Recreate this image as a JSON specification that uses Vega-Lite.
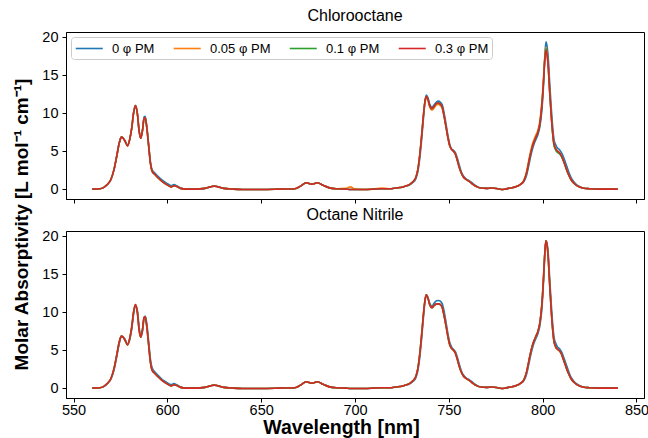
{
  "$schema": "https://vega.github.io/schema/vega-lite/v6.json",
  "padding": {"left": 12, "top": 7, "right": 0, "bottom": 0},
  "bounds": "flush",
  "spacing": 32,
  "config": {
    "font": "Liberation Sans",
    "view": {"stroke": "#000", "strokeWidth": 1},
    "axis": {"grid": false, "domainColor": "#000", "domainWidth": 1, "tickColor": "#000", "tickSize": 4, "tickWidth": 1, "labelColor": "#000", "labelFontSize": 14.5, "labelPadding": 1, "titleColor": "#000", "titleFontSize": 19.5, "titleFontWeight": "bold"},
    "axisY": {"labelPadding": 4, "titlePadding": 10},
    "axisX": {"titlePadding": 2},
    "title": {"fontSize": 16, "fontWeight": "normal", "color": "#000", "offset": 5, "font": "Liberation Sans"}
  },
  "resolve": {"legend": {"color": "independent"}},
  "datasets": {
    "spec": [
      {"p":"C","wl":560,"a":0,"b":0,"c":0,"d":0},
      {"p":"C","wl":564,"a":0.05,"b":0.05,"c":0.05,"d":0.05},
      {"p":"C","wl":566,"a":0.2,"b":0.2,"c":0.2,"d":0.2},
      {"p":"C","wl":568,"a":0.6,"b":0.6,"c":0.6,"d":0.6},
      {"p":"C","wl":570,"a":1.3,"b":1.3,"c":1.3,"d":1.3},
      {"p":"C","wl":571.5,"a":2.5,"b":2.5,"c":2.5,"d":2.5},
      {"p":"C","wl":573,"a":4.3,"b":4.3,"c":4.3,"d":4.3},
      {"p":"C","wl":574.5,"a":6.2,"b":6.2,"c":6.2,"d":6.2},
      {"p":"C","wl":575.5,"a":6.85,"b":6.85,"c":6.85,"d":6.85},
      {"p":"C","wl":576.5,"a":6.7,"b":6.7,"c":6.7,"d":6.7},
      {"p":"C","wl":577.5,"a":6.35,"b":6.3,"c":6.3,"d":6.3},
      {"p":"C","wl":578.8,"a":5.8,"b":5.7,"c":5.7,"d":5.7},
      {"p":"C","wl":580,"a":6.6,"b":6.6,"c":6.6,"d":6.6},
      {"p":"C","wl":581,"a":8.0,"b":8.0,"c":8.0,"d":8.0},
      {"p":"C","wl":582,"a":10.0,"b":10.0,"c":10.0,"d":10.0},
      {"p":"C","wl":583,"a":11.0,"b":11.0,"c":11.0,"d":11.0},
      {"p":"C","wl":584,"a":10.0,"b":10.0,"c":10.0,"d":10.0},
      {"p":"C","wl":585,"a":7.6,"b":7.6,"c":7.6,"d":7.6},
      {"p":"C","wl":585.8,"a":6.7,"b":6.7,"c":6.7,"d":6.7},
      {"p":"C","wl":586.8,"a":7.8,"b":7.8,"c":7.8,"d":7.8},
      {"p":"C","wl":587.6,"a":9.5,"b":9.3,"c":9.3,"d":9.3},
      {"p":"C","wl":588.2,"a":9.6,"b":9.4,"c":9.4,"d":9.4},
      {"p":"C","wl":589,"a":8.4,"b":8.2,"c":8.2,"d":8.2},
      {"p":"C","wl":590,"a":6.0,"b":5.8,"c":5.8,"d":5.8},
      {"p":"C","wl":591,"a":3.6,"b":3.4,"c":3.4,"d":3.4},
      {"p":"C","wl":592,"a":2.5,"b":2.3,"c":2.3,"d":2.3},
      {"p":"C","wl":593.5,"a":2.1,"b":1.9,"c":1.9,"d":1.9},
      {"p":"C","wl":595,"a":1.7,"b":1.5,"c":1.5,"d":1.5},
      {"p":"C","wl":597,"a":1.25,"b":1.05,"c":1.05,"d":1.05},
      {"p":"C","wl":599,"a":0.9,"b":0.7,"c":0.7,"d":0.7},
      {"p":"C","wl":601,"a":0.6,"b":0.4,"c":0.4,"d":0.4},
      {"p":"C","wl":602,"a":0.45,"b":0.28,"c":0.28,"d":0.28},
      {"p":"C","wl":603.5,"a":0.6,"b":0.45,"c":0.45,"d":0.45},
      {"p":"C","wl":605,"a":0.45,"b":0.35,"c":0.35,"d":0.35},
      {"p":"C","wl":607,"a":0.15,"b":0.1,"c":0.1,"d":0.1},
      {"p":"C","wl":610,"a":0,"b":0,"c":0,"d":0},
      {"p":"C","wl":615,"a":0,"b":0,"c":0,"d":0},
      {"p":"C","wl":620,"a":0.1,"b":0.1,"c":0.1,"d":0.1},
      {"p":"C","wl":623,"a":0.3,"b":0.3,"c":0.3,"d":0.3},
      {"p":"C","wl":625,"a":0.4,"b":0.4,"c":0.4,"d":0.4},
      {"p":"C","wl":627,"a":0.3,"b":0.3,"c":0.3,"d":0.3},
      {"p":"C","wl":630,"a":0.1,"b":0.1,"c":0.1,"d":0.1},
      {"p":"C","wl":635,"a":0,"b":0,"c":0,"d":0},
      {"p":"C","wl":640,"a":-0.05,"b":-0.05,"c":-0.05,"d":-0.05},
      {"p":"C","wl":650,"a":-0.05,"b":-0.05,"c":-0.05,"d":-0.05},
      {"p":"C","wl":660,"a":0,"b":0,"c":0,"d":0},
      {"p":"C","wl":668,"a":0.05,"b":0.05,"c":0.05,"d":0.05},
      {"p":"C","wl":671,"a":0.4,"b":0.4,"c":0.4,"d":0.4},
      {"p":"C","wl":674,"a":0.85,"b":0.85,"c":0.85,"d":0.85},
      {"p":"C","wl":677,"a":0.65,"b":0.65,"c":0.65,"d":0.65},
      {"p":"C","wl":680,"a":0.85,"b":0.85,"c":0.85,"d":0.85},
      {"p":"C","wl":683,"a":0.5,"b":0.5,"c":0.5,"d":0.5},
      {"p":"C","wl":686,"a":0.2,"b":0.2,"c":0.2,"d":0.2},
      {"p":"C","wl":690,"a":0.05,"b":0.05,"c":0.05,"d":0.05},
      {"p":"C","wl":695,"a":0,"b":0.1,"c":0,"d":0},
      {"p":"C","wl":697.5,"a":-0.05,"b":0.3,"c":-0.05,"d":-0.05},
      {"p":"C","wl":700,"a":-0.05,"b":0,"c":-0.05,"d":-0.05},
      {"p":"C","wl":705,"a":-0.05,"b":-0.05,"c":-0.05,"d":-0.05},
      {"p":"C","wl":710,"a":0,"b":0,"c":0,"d":0},
      {"p":"C","wl":714,"a":0.05,"b":0.15,"c":0.05,"d":0.05},
      {"p":"C","wl":718,"a":0.05,"b":0.05,"c":0.05,"d":0.05},
      {"p":"C","wl":722,"a":0.15,"b":0.15,"c":0.15,"d":0.15},
      {"p":"C","wl":725,"a":0.25,"b":0.25,"c":0.25,"d":0.25},
      {"p":"C","wl":727,"a":0.4,"b":0.4,"c":0.4,"d":0.4},
      {"p":"C","wl":729,"a":0.55,"b":0.6,"c":0.6,"d":0.6},
      {"p":"C","wl":731,"a":0.9,"b":1.0,"c":1.0,"d":1.0},
      {"p":"C","wl":732.5,"a":1.4,"b":1.6,"c":1.6,"d":1.6},
      {"p":"C","wl":733.5,"a":2.3,"b":2.6,"c":2.6,"d":2.6},
      {"p":"C","wl":734.5,"a":4.0,"b":4.5,"c":4.5,"d":4.5},
      {"p":"C","wl":735.5,"a":6.5,"b":7.0,"c":7.0,"d":7.0},
      {"p":"C","wl":736.5,"a":9.4,"b":9.8,"c":9.8,"d":9.8},
      {"p":"C","wl":737.3,"a":11.6,"b":11.4,"c":11.6,"d":11.6},
      {"p":"C","wl":738,"a":12.4,"b":12.0,"c":12.2,"d":12.2},
      {"p":"C","wl":738.8,"a":12.1,"b":11.7,"c":11.9,"d":11.9},
      {"p":"C","wl":739.8,"a":11.2,"b":10.8,"c":11.0,"d":11.0},
      {"p":"C","wl":741,"a":10.8,"b":10.4,"c":10.6,"d":10.6},
      {"p":"C","wl":742.2,"a":11.1,"b":10.7,"c":10.9,"d":10.9},
      {"p":"C","wl":743.5,"a":11.5,"b":11.1,"c":11.3,"d":11.3},
      {"p":"C","wl":744.5,"a":11.6,"b":11.15,"c":11.35,"d":11.35},
      {"p":"C","wl":745.5,"a":11.45,"b":11.0,"c":11.2,"d":11.2},
      {"p":"C","wl":746.5,"a":11.1,"b":10.6,"c":10.8,"d":10.8},
      {"p":"C","wl":747.5,"a":10.0,"b":9.6,"c":9.6,"d":9.6},
      {"p":"C","wl":748.5,"a":8.6,"b":8.2,"c":8.2,"d":8.2},
      {"p":"C","wl":749.5,"a":7.1,"b":6.8,"c":6.8,"d":6.8},
      {"p":"C","wl":750.5,"a":5.9,"b":5.7,"c":5.7,"d":5.7},
      {"p":"C","wl":751.5,"a":5.3,"b":5.2,"c":5.2,"d":5.2},
      {"p":"C","wl":752.5,"a":5.1,"b":5.0,"c":5.0,"d":5.0},
      {"p":"C","wl":753.5,"a":4.8,"b":4.6,"c":4.6,"d":4.6},
      {"p":"C","wl":754.5,"a":4.1,"b":3.8,"c":3.8,"d":3.8},
      {"p":"C","wl":755.5,"a":3.2,"b":2.9,"c":2.9,"d":2.9},
      {"p":"C","wl":756.5,"a":2.4,"b":2.2,"c":2.2,"d":2.2},
      {"p":"C","wl":757.5,"a":1.85,"b":1.7,"c":1.7,"d":1.7},
      {"p":"C","wl":759,"a":1.4,"b":1.3,"c":1.3,"d":1.3},
      {"p":"C","wl":761,"a":1.1,"b":1.0,"c":1.0,"d":1.0},
      {"p":"C","wl":763,"a":0.7,"b":0.6,"c":0.6,"d":0.6},
      {"p":"C","wl":765,"a":0.35,"b":0.3,"c":0.3,"d":0.3},
      {"p":"C","wl":767,"a":0.15,"b":0.15,"c":0.15,"d":0.15},
      {"p":"C","wl":770,"a":0.1,"b":0.1,"c":0.1,"d":0.1},
      {"p":"C","wl":773,"a":0.15,"b":0.15,"c":0.15,"d":0.15},
      {"p":"C","wl":776,"a":0.05,"b":0.05,"c":0.05,"d":0.05},
      {"p":"C","wl":778,"a":-0.05,"b":-0.05,"c":-0.05,"d":-0.05},
      {"p":"C","wl":780,"a":0,"b":0,"c":0,"d":0},
      {"p":"C","wl":783,"a":0.15,"b":0.15,"c":0.15,"d":0.15},
      {"p":"C","wl":786,"a":0.35,"b":0.35,"c":0.35,"d":0.35},
      {"p":"C","wl":788,"a":0.6,"b":0.6,"c":0.6,"d":0.6},
      {"p":"C","wl":790,"a":1.0,"b":1.2,"c":1.1,"d":1.1},
      {"p":"C","wl":791.5,"a":1.9,"b":2.4,"c":2.2,"d":2.2},
      {"p":"C","wl":792.5,"a":3.0,"b":3.7,"c":3.4,"d":3.4},
      {"p":"C","wl":793.5,"a":4.2,"b":4.9,"c":4.6,"d":4.6},
      {"p":"C","wl":794.5,"a":5.2,"b":5.9,"c":5.6,"d":5.6},
      {"p":"C","wl":795.5,"a":6.0,"b":6.6,"c":6.3,"d":6.3},
      {"p":"C","wl":796.5,"a":6.6,"b":7.2,"c":6.9,"d":6.9},
      {"p":"C","wl":797.5,"a":7.2,"b":7.8,"c":7.5,"d":7.5},
      {"p":"C","wl":798.5,"a":8.2,"b":9.0,"c":8.6,"d":8.6},
      {"p":"C","wl":799.5,"a":10.2,"b":11.3,"c":10.8,"d":10.8},
      {"p":"C","wl":800.3,"a":13.0,"b":14.0,"c":13.5,"d":13.5},
      {"p":"C","wl":801,"a":16.6,"b":17.0,"c":16.6,"d":16.5},
      {"p":"C","wl":801.7,"a":19.4,"b":18.7,"c":18.5,"d":18.3},
      {"p":"C","wl":802.3,"a":18.9,"b":18.0,"c":17.9,"d":17.8},
      {"p":"C","wl":803,"a":17.2,"b":16.1,"c":16.0,"d":16.0},
      {"p":"C","wl":803.7,"a":14.2,"b":13.0,"c":12.9,"d":13.0},
      {"p":"C","wl":804.5,"a":11.0,"b":10.0,"c":9.9,"d":10.0},
      {"p":"C","wl":805.3,"a":8.3,"b":7.5,"c":7.3,"d":7.5},
      {"p":"C","wl":806,"a":6.6,"b":6.0,"c":5.8,"d":6.0},
      {"p":"C","wl":807,"a":5.8,"b":5.3,"c":5.1,"d":5.3},
      {"p":"C","wl":808,"a":5.4,"b":5.0,"c":4.8,"d":5.0},
      {"p":"C","wl":809,"a":5.2,"b":4.8,"c":4.65,"d":4.8},
      {"p":"C","wl":810,"a":4.8,"b":4.4,"c":4.3,"d":4.4},
      {"p":"C","wl":811,"a":4.3,"b":3.8,"c":3.75,"d":3.8},
      {"p":"C","wl":812,"a":3.6,"b":3.1,"c":3.1,"d":3.1},
      {"p":"C","wl":813,"a":2.9,"b":2.4,"c":2.4,"d":2.4},
      {"p":"C","wl":814,"a":2.2,"b":1.8,"c":1.8,"d":1.8},
      {"p":"C","wl":815,"a":1.6,"b":1.3,"c":1.3,"d":1.3},
      {"p":"C","wl":816.5,"a":1.0,"b":0.8,"c":0.8,"d":0.8},
      {"p":"C","wl":818,"a":0.6,"b":0.5,"c":0.5,"d":0.5},
      {"p":"C","wl":820,"a":0.3,"b":0.25,"c":0.25,"d":0.25},
      {"p":"C","wl":822,"a":0.12,"b":0.12,"c":0.12,"d":0.12},
      {"p":"C","wl":825,"a":0.05,"b":0.05,"c":0.05,"d":0.05},
      {"p":"C","wl":830,"a":0,"b":0,"c":0,"d":0},
      {"p":"C","wl":835,"a":0,"b":0,"c":0,"d":0},
      {"p":"C","wl":840,"a":0,"b":0,"c":0,"d":0},

      {"p":"N","wl":560,"a":0,"b":0,"c":0,"d":0},
      {"p":"N","wl":564,"a":0.05,"b":0.05,"c":0.05,"d":0.05},
      {"p":"N","wl":566,"a":0.2,"b":0.2,"c":0.2,"d":0.2},
      {"p":"N","wl":568,"a":0.6,"b":0.6,"c":0.6,"d":0.6},
      {"p":"N","wl":570,"a":1.2,"b":1.3,"c":1.3,"d":1.3},
      {"p":"N","wl":571.5,"a":2.3,"b":2.5,"c":2.5,"d":2.5},
      {"p":"N","wl":573,"a":4.1,"b":4.3,"c":4.3,"d":4.3},
      {"p":"N","wl":574.5,"a":6.0,"b":6.2,"c":6.2,"d":6.2},
      {"p":"N","wl":575.5,"a":6.8,"b":6.85,"c":6.85,"d":6.85},
      {"p":"N","wl":576.5,"a":6.75,"b":6.7,"c":6.7,"d":6.7},
      {"p":"N","wl":577.5,"a":6.4,"b":6.3,"c":6.3,"d":6.3},
      {"p":"N","wl":578.8,"a":5.8,"b":5.7,"c":5.7,"d":5.7},
      {"p":"N","wl":580,"a":6.4,"b":6.6,"c":6.6,"d":6.6},
      {"p":"N","wl":581,"a":7.7,"b":8.0,"c":8.0,"d":8.0},
      {"p":"N","wl":582,"a":9.7,"b":10.0,"c":10.0,"d":10.0},
      {"p":"N","wl":583,"a":10.9,"b":11.0,"c":11.0,"d":11.0},
      {"p":"N","wl":584,"a":10.3,"b":10.0,"c":10.0,"d":10.0},
      {"p":"N","wl":585,"a":8.0,"b":7.6,"c":7.6,"d":7.6},
      {"p":"N","wl":585.8,"a":6.8,"b":6.7,"c":6.7,"d":6.7},
      {"p":"N","wl":586.8,"a":7.5,"b":7.8,"c":7.8,"d":7.8},
      {"p":"N","wl":587.6,"a":9.2,"b":9.3,"c":9.3,"d":9.3},
      {"p":"N","wl":588.2,"a":9.5,"b":9.4,"c":9.4,"d":9.4},
      {"p":"N","wl":589,"a":8.6,"b":8.2,"c":8.2,"d":8.2},
      {"p":"N","wl":590,"a":6.3,"b":5.8,"c":5.8,"d":5.8},
      {"p":"N","wl":591,"a":3.8,"b":3.4,"c":3.4,"d":3.4},
      {"p":"N","wl":592,"a":2.6,"b":2.3,"c":2.3,"d":2.3},
      {"p":"N","wl":593.5,"a":2.1,"b":1.9,"c":1.9,"d":1.9},
      {"p":"N","wl":595,"a":1.7,"b":1.5,"c":1.5,"d":1.5},
      {"p":"N","wl":597,"a":1.2,"b":1.05,"c":1.05,"d":1.05},
      {"p":"N","wl":599,"a":0.85,"b":0.7,"c":0.7,"d":0.7},
      {"p":"N","wl":601,"a":0.55,"b":0.4,"c":0.4,"d":0.4},
      {"p":"N","wl":602,"a":0.45,"b":0.28,"c":0.28,"d":0.28},
      {"p":"N","wl":603.5,"a":0.6,"b":0.45,"c":0.45,"d":0.45},
      {"p":"N","wl":605,"a":0.45,"b":0.35,"c":0.35,"d":0.35},
      {"p":"N","wl":607,"a":0.15,"b":0.1,"c":0.1,"d":0.1},
      {"p":"N","wl":610,"a":0,"b":0,"c":0,"d":0},
      {"p":"N","wl":615,"a":0,"b":0,"c":0,"d":0},
      {"p":"N","wl":620,"a":0.1,"b":0.1,"c":0.1,"d":0.1},
      {"p":"N","wl":623,"a":0.3,"b":0.3,"c":0.3,"d":0.3},
      {"p":"N","wl":625,"a":0.4,"b":0.4,"c":0.4,"d":0.4},
      {"p":"N","wl":627,"a":0.3,"b":0.3,"c":0.3,"d":0.3},
      {"p":"N","wl":630,"a":0.1,"b":0.1,"c":0.1,"d":0.1},
      {"p":"N","wl":635,"a":0,"b":0,"c":0,"d":0},
      {"p":"N","wl":640,"a":-0.05,"b":-0.05,"c":-0.05,"d":-0.05},
      {"p":"N","wl":650,"a":-0.05,"b":-0.05,"c":-0.05,"d":-0.05},
      {"p":"N","wl":660,"a":0,"b":0,"c":0,"d":0},
      {"p":"N","wl":668,"a":0.05,"b":0.05,"c":0.05,"d":0.05},
      {"p":"N","wl":671,"a":0.4,"b":0.4,"c":0.4,"d":0.4},
      {"p":"N","wl":674,"a":0.85,"b":0.85,"c":0.85,"d":0.85},
      {"p":"N","wl":677,"a":0.65,"b":0.65,"c":0.65,"d":0.65},
      {"p":"N","wl":680,"a":0.85,"b":0.85,"c":0.85,"d":0.85},
      {"p":"N","wl":683,"a":0.5,"b":0.5,"c":0.5,"d":0.5},
      {"p":"N","wl":686,"a":0.2,"b":0.2,"c":0.2,"d":0.2},
      {"p":"N","wl":690,"a":0.05,"b":0.05,"c":0.05,"d":0.05},
      {"p":"N","wl":695,"a":0,"b":0,"c":0,"d":0},
      {"p":"N","wl":697.5,"a":-0.05,"b":-0.05,"c":-0.05,"d":-0.05},
      {"p":"N","wl":700,"a":-0.05,"b":-0.05,"c":-0.05,"d":-0.05},
      {"p":"N","wl":705,"a":-0.05,"b":-0.05,"c":-0.05,"d":-0.05},
      {"p":"N","wl":710,"a":0,"b":0,"c":0,"d":0},
      {"p":"N","wl":714,"a":0.05,"b":0.05,"c":0.05,"d":0.05},
      {"p":"N","wl":718,"a":0.05,"b":0.05,"c":0.05,"d":0.05},
      {"p":"N","wl":722,"a":0.15,"b":0.15,"c":0.15,"d":0.15},
      {"p":"N","wl":725,"a":0.25,"b":0.25,"c":0.25,"d":0.25},
      {"p":"N","wl":727,"a":0.4,"b":0.4,"c":0.4,"d":0.4},
      {"p":"N","wl":729,"a":0.55,"b":0.6,"c":0.6,"d":0.6},
      {"p":"N","wl":731,"a":0.9,"b":1.0,"c":1.0,"d":1.0},
      {"p":"N","wl":732.5,"a":1.4,"b":1.6,"c":1.6,"d":1.6},
      {"p":"N","wl":733.5,"a":2.3,"b":2.6,"c":2.6,"d":2.6},
      {"p":"N","wl":734.5,"a":4.0,"b":4.5,"c":4.5,"d":4.5},
      {"p":"N","wl":735.5,"a":6.5,"b":7.0,"c":7.0,"d":7.0},
      {"p":"N","wl":736.5,"a":9.4,"b":9.8,"c":9.8,"d":9.8},
      {"p":"N","wl":737.3,"a":11.4,"b":11.6,"c":11.6,"d":11.6},
      {"p":"N","wl":738,"a":12.3,"b":12.3,"c":12.3,"d":12.3},
      {"p":"N","wl":738.8,"a":12.0,"b":11.9,"c":11.9,"d":11.9},
      {"p":"N","wl":739.8,"a":11.2,"b":11.0,"c":11.0,"d":11.0},
      {"p":"N","wl":741,"a":10.8,"b":10.6,"c":10.6,"d":10.6},
      {"p":"N","wl":742.2,"a":11.2,"b":10.9,"c":10.9,"d":10.9},
      {"p":"N","wl":743.5,"a":11.5,"b":11.1,"c":11.1,"d":11.1},
      {"p":"N","wl":744.5,"a":11.55,"b":11.1,"c":11.1,"d":11.1},
      {"p":"N","wl":745.5,"a":11.45,"b":11.0,"c":11.0,"d":11.0},
      {"p":"N","wl":746.5,"a":11.1,"b":10.6,"c":10.6,"d":10.6},
      {"p":"N","wl":747.5,"a":10.1,"b":9.5,"c":9.5,"d":9.5},
      {"p":"N","wl":748.5,"a":8.7,"b":8.2,"c":8.2,"d":8.2},
      {"p":"N","wl":749.5,"a":7.2,"b":6.8,"c":6.8,"d":6.8},
      {"p":"N","wl":750.5,"a":6.0,"b":5.7,"c":5.7,"d":5.7},
      {"p":"N","wl":751.5,"a":5.4,"b":5.2,"c":5.2,"d":5.2},
      {"p":"N","wl":752.5,"a":5.1,"b":5.0,"c":5.0,"d":5.0},
      {"p":"N","wl":753.5,"a":4.8,"b":4.6,"c":4.6,"d":4.6},
      {"p":"N","wl":754.5,"a":4.1,"b":3.8,"c":3.8,"d":3.8},
      {"p":"N","wl":755.5,"a":3.2,"b":2.9,"c":2.9,"d":2.9},
      {"p":"N","wl":756.5,"a":2.4,"b":2.2,"c":2.2,"d":2.2},
      {"p":"N","wl":757.5,"a":1.85,"b":1.7,"c":1.7,"d":1.7},
      {"p":"N","wl":759,"a":1.4,"b":1.3,"c":1.3,"d":1.3},
      {"p":"N","wl":761,"a":1.1,"b":1.0,"c":1.0,"d":1.0},
      {"p":"N","wl":763,"a":0.7,"b":0.6,"c":0.6,"d":0.6},
      {"p":"N","wl":765,"a":0.35,"b":0.3,"c":0.3,"d":0.3},
      {"p":"N","wl":767,"a":0.15,"b":0.15,"c":0.15,"d":0.15},
      {"p":"N","wl":770,"a":0.1,"b":0.1,"c":0.1,"d":0.1},
      {"p":"N","wl":773,"a":0.15,"b":0.15,"c":0.15,"d":0.15},
      {"p":"N","wl":776,"a":0.05,"b":0.05,"c":0.05,"d":0.05},
      {"p":"N","wl":778,"a":-0.05,"b":-0.05,"c":-0.05,"d":-0.05},
      {"p":"N","wl":780,"a":0,"b":0,"c":0,"d":0},
      {"p":"N","wl":783,"a":0.15,"b":0.15,"c":0.15,"d":0.15},
      {"p":"N","wl":786,"a":0.35,"b":0.35,"c":0.35,"d":0.35},
      {"p":"N","wl":788,"a":0.6,"b":0.6,"c":0.6,"d":0.6},
      {"p":"N","wl":790,"a":1.0,"b":1.1,"c":1.1,"d":1.1},
      {"p":"N","wl":791.5,"a":1.9,"b":2.2,"c":2.2,"d":2.2},
      {"p":"N","wl":792.5,"a":3.0,"b":3.4,"c":3.4,"d":3.4},
      {"p":"N","wl":793.5,"a":4.2,"b":4.6,"c":4.6,"d":4.6},
      {"p":"N","wl":794.5,"a":5.2,"b":5.6,"c":5.6,"d":5.6},
      {"p":"N","wl":795.5,"a":6.0,"b":6.3,"c":6.3,"d":6.3},
      {"p":"N","wl":796.5,"a":6.6,"b":6.9,"c":6.9,"d":6.9},
      {"p":"N","wl":797.5,"a":7.2,"b":7.5,"c":7.5,"d":7.5},
      {"p":"N","wl":798.5,"a":8.2,"b":8.6,"c":8.6,"d":8.6},
      {"p":"N","wl":799.5,"a":10.2,"b":10.8,"c":10.8,"d":10.8},
      {"p":"N","wl":800.3,"a":13.2,"b":13.8,"c":13.8,"d":13.8},
      {"p":"N","wl":801,"a":16.8,"b":17.2,"c":17.2,"d":17.2},
      {"p":"N","wl":801.7,"a":19.4,"b":19.4,"c":19.4,"d":19.4},
      {"p":"N","wl":802.3,"a":19.1,"b":18.9,"c":18.9,"d":18.9},
      {"p":"N","wl":803,"a":17.6,"b":17.0,"c":17.0,"d":17.0},
      {"p":"N","wl":803.7,"a":14.6,"b":13.8,"c":13.8,"d":13.8},
      {"p":"N","wl":804.5,"a":11.4,"b":10.5,"c":10.5,"d":10.5},
      {"p":"N","wl":805.3,"a":8.6,"b":7.8,"c":7.8,"d":7.8},
      {"p":"N","wl":806,"a":6.8,"b":6.2,"c":6.2,"d":6.2},
      {"p":"N","wl":807,"a":5.9,"b":5.4,"c":5.4,"d":5.4},
      {"p":"N","wl":808,"a":5.4,"b":5.1,"c":5.1,"d":5.1},
      {"p":"N","wl":809,"a":5.2,"b":4.9,"c":4.9,"d":4.9},
      {"p":"N","wl":810,"a":4.8,"b":4.5,"c":4.5,"d":4.5},
      {"p":"N","wl":811,"a":4.2,"b":3.8,"c":3.8,"d":3.8},
      {"p":"N","wl":812,"a":3.5,"b":3.1,"c":3.1,"d":3.1},
      {"p":"N","wl":813,"a":2.8,"b":2.4,"c":2.4,"d":2.4},
      {"p":"N","wl":814,"a":2.1,"b":1.8,"c":1.8,"d":1.8},
      {"p":"N","wl":815,"a":1.5,"b":1.3,"c":1.3,"d":1.3},
      {"p":"N","wl":816.5,"a":0.95,"b":0.8,"c":0.8,"d":0.8},
      {"p":"N","wl":818,"a":0.6,"b":0.5,"c":0.5,"d":0.5},
      {"p":"N","wl":820,"a":0.3,"b":0.25,"c":0.25,"d":0.25},
      {"p":"N","wl":822,"a":0.12,"b":0.12,"c":0.12,"d":0.12},
      {"p":"N","wl":825,"a":0.05,"b":0.05,"c":0.05,"d":0.05},
      {"p":"N","wl":830,"a":0,"b":0,"c":0,"d":0},
      {"p":"N","wl":835,"a":0,"b":0,"c":0,"d":0},
      {"p":"N","wl":840,"a":0,"b":0,"c":0,"d":0}
    ]
  },
  "vconcat": [
    {
      "width": 578,
      "height": 167,
      "title": "Chlorooctane",
      "data": {"name": "spec"},
      "transform": [
        {"filter": "datum.p == 'C'"},
        {"fold": ["a", "b", "c", "d"], "as": ["series", "value"]}
      ],
      "mark": {"type": "line", "strokeWidth": 1.6, "interpolate": "monotone"},
      "encoding": {
        "x": {"field": "wl", "type": "quantitative", "scale": {"domain": [546, 854], "nice": false, "zero": false}, "axis": {"values": [550, 600, 650, 700, 750, 800, 850], "labels": false, "title": null}},
        "y": {"field": "value", "type": "quantitative", "scale": {"domain": [-1.3, 20.7], "nice": false}, "axis": {"values": [0, 5, 10, 15, 20], "title": "Molar Absorptivity [L mol⁻¹ cm⁻¹]", "titleY": 192, "titleFontSize": 19}},
        "color": {
          "field": "series", "type": "nominal",
          "scale": {"domain": ["a", "b", "c", "d"], "range": ["#1f77b4", "#ff7f0e", "#2ca02c", "#d62728"]},
          "legend": {"title": null, "orient": "top-left", "offset": 5, "direction": "horizontal", "columns": 4, "symbolType": "M-1,0H3", "symbolSize": 182.25, "symbolStrokeWidth": 1.6, "labelFontSize": 13, "labelColor": "#000", "labelOffset": 21.5, "columnPadding": 16, "padding": 3.5, "strokeColor": "#cccccc", "fillColor": "rgba(255,255,255,0.8)", "cornerRadius": 3,
            "labelExpr": "{'a': '0 φ PM', 'b': '0.05 φ PM', 'c': '0.1 φ PM', 'd': '0.3 φ PM'}[datum.value]"}
        }
      }
    },
    {
      "width": 578,
      "height": 167,
      "title": "Octane Nitrile",
      "data": {"name": "spec"},
      "transform": [
        {"filter": "datum.p == 'N'"},
        {"fold": ["a", "b", "c", "d"], "as": ["series", "value"]}
      ],
      "mark": {"type": "line", "strokeWidth": 1.6, "interpolate": "monotone"},
      "encoding": {
        "x": {"field": "wl", "type": "quantitative", "scale": {"domain": [546, 854], "nice": false, "zero": false}, "axis": {"values": [550, 600, 650, 700, 750, 800, 850], "title": "Wavelength [nm]", "titleX": 275}},
        "y": {"field": "value", "type": "quantitative", "scale": {"domain": [-1.3, 20.7], "nice": false}, "axis": {"values": [0, 5, 10, 15, 20], "title": null}},
        "color": {
          "field": "series", "type": "nominal",
          "scale": {"domain": ["a", "b", "c", "d"], "range": ["#1f77b4", "#ff7f0e", "#2ca02c", "#d62728"]},
          "legend": null
        }
      }
    }
  ]
}
